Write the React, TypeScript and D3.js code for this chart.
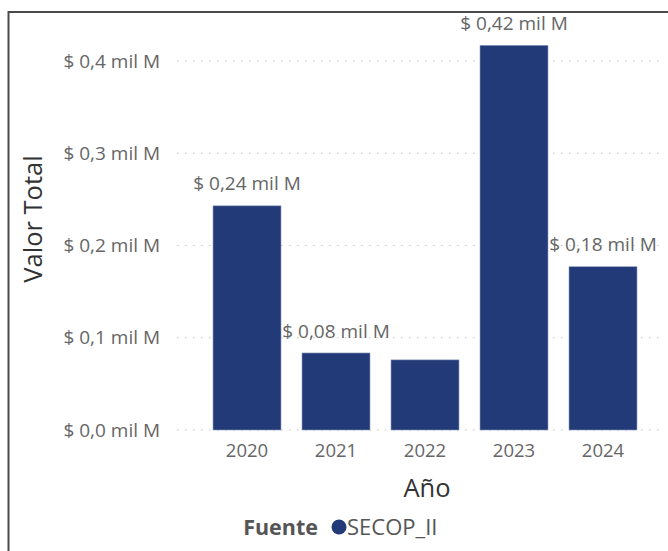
import React from "react";
import * as d3 from "d3";

const years = ["2020", "2021", "2022", "2023", "2024"];
const values = [0.243, 0.0835, 0.076, 0.417, 0.177];
const labels = ["$ 0,24 mil M", "$ 0,08 mil M", null, "$ 0,42 mil M", "$ 0,18 mil M"];
const yTicks = [0, 0.1, 0.2, 0.3, 0.4];
const yTickLabels = ["$ 0,0 mil M", "$ 0,1 mil M", "$ 0,2 mil M", "$ 0,3 mil M", "$ 0,4 mil M"];
const legendSeries = ["SECOP_II"];

const W = 668;
const H = 551;
const FONT = "'Segoe UI', 'Open Sans', sans-serif";
const BAR = "#233a78";

export default function App() {
  const x = d3.scaleBand<string>().domain(years).range([202.5, 647.5]).paddingInner(0.236).paddingOuter(0.118);
  const y = d3.scaleLinear().domain([0, 0.4]).range([430, 61]);

  return (
    <svg width={W} height={H} style={{ position: "absolute", left: 0, top: 0, background: "#fff" }} fontFamily={FONT}>
      <rect x={0} y={0} width={W} height={H} fill="#fff" />
      <path d="M8.5,560 L8.5,12 L680,12" fill="none" stroke="#4a4a4a" strokeWidth={2} />
      {yTicks.map((t, i) => (
        <g key={t}>
          <line x1={177} x2={662} y1={y(t)} y2={y(t)} stroke="#c4c4c4" strokeWidth={1.2} strokeDasharray="1.5,6.5" />
          <text x={160} y={y(t)} dy="0.35em" textAnchor="end" fontSize={19} fill="#666">{yTickLabels[i]}</text>
        </g>
      ))}
      {years.map((yr, i) => (
        <g key={yr}>
          <rect x={x(yr)} y={y(values[i])} width={x.bandwidth()} height={y(0) - y(values[i])} fill={BAR} stroke="#8e9bbd" strokeWidth={0.6} />
          <text x={(x(yr) as number) + x.bandwidth() / 2} y={451} dy="0.35em" textAnchor="middle" fontSize={18.5} fill="#666">{yr}</text>
          {labels[i] && (
            <text x={(x(yr) as number) + x.bandwidth() / 2} y={y(values[i]) - 22} dy="0.35em" textAnchor="middle" fontSize={19} fill="#666">{labels[i]}</text>
          )}
        </g>
      ))}
      <text x={427} y={488} dy="0.35em" textAnchor="middle" fontSize={25.5} fill="#333">Año</text>
      <text transform={`translate(33,219) rotate(-90)`} dy="0.35em" textAnchor="middle" fontSize={25.5} fill="#333">Valor Total</text>
      <text x={318} y={527} dy="0.35em" textAnchor="end" fontSize={21.5} fontWeight="bold" fill="#555">Fuente</text>
      <circle cx={339} cy={527} r={7.5} fill={BAR} />
      <text x={347} y={527} dy="0.35em" fontSize={22} fill="#555">{legendSeries[0]}</text>
    </svg>
  );
}
